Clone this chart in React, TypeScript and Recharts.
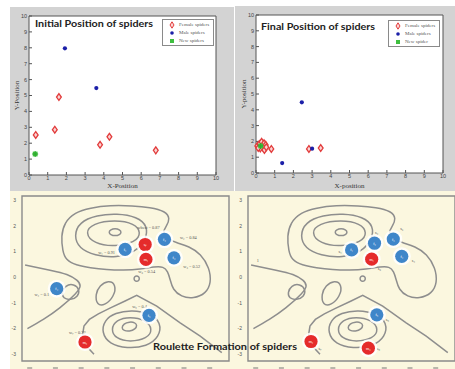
import React from 'react';
import { ScatterChart, Scatter, XAxis, YAxis, Legend, ReferenceArea } from 'recharts';

// ---- top panels: spider positions ----
const positionTicks = [0, 1, 2, 3, 4, 5, 6, 7, 8, 9, 10];

const initialFemale = [
  { x: 0.36, y: 2.52 }, { x: 1.38, y: 2.85 }, { x: 1.6, y: 4.9 },
  { x: 3.8, y: 1.9 }, { x: 4.3, y: 2.4 }, { x: 6.78, y: 1.55 },
];
const initialMale = [{ x: 1.92, y: 7.97 }, { x: 3.6, y: 5.47 }];
const initialNew = [{ x: 0.33, y: 1.32 }];

const finalFemale = [
  { x: 0.07, y: 1.71 }, { x: 0.18, y: 1.84 }, { x: 0.3, y: 1.97 }, { x: 0.43, y: 1.88 },
  { x: 0.52, y: 1.78 }, { x: 0.36, y: 1.63 }, { x: 0.23, y: 1.56 }, { x: 0.45, y: 1.46 },
  { x: 0.12, y: 1.58 }, { x: 0.55, y: 1.63 }, { x: 0.82, y: 1.52 }, { x: 2.83, y: 1.52 },
  { x: 3.46, y: 1.58 },
];
const finalMale = [{ x: 2.45, y: 4.47 }, { x: 1.4, y: 0.63 }, { x: 3.0, y: 1.54 }];
const finalNew = [{ x: 0.25, y: 1.71 }];

const initialLegend = ['Female spiders', 'Male spiders', 'New spiders'];
const finalLegend = ['Female spiders', 'Male spiders', 'New spider'];

// ---- bottom panels: roulette formation ----
const rouletteYTicks = [-3, -2, -1, 0, 1, 2, 3];
const rouletteXTicks = [-3.7, -2.7, -1.7, -0.7, 0.3, 1.3, 2.3, 3.3];

const outerContour = [
  [-2.42, 1.01], [-2.48, 1.6], [-2.35, 2.13], [-1.95, 2.52], [-1.35, 2.7], [-0.58, 2.8],
  [0.31, 2.78], [0.98, 2.72], [1.58, 2.57], [1.76, 2.28], [1.62, 1.98], [1.45, 1.75],
  [1.63, 1.49], [2.02, 1.33], [2.49, 1.2], [2.96, 0.9], [3.29, 0.36], [3.36, -0.22],
  [3.15, -0.64], [2.67, -0.84], [2.19, -0.77], [1.86, -0.48], [1.76, -0.09], [1.67, 0.23],
  [1.5, 0.41], [1.17, 0.41], [0.59, 0.3], [-0.05, 0.27], [-0.71, 0.29], [-1.35, 0.36],
  [-1.9, 0.46], [-2.3, 0.67],
];
const ringMiddle = [
  [-1.98, 1.6], [-1.78, 2.14], [-1.09, 2.41], [-0.31, 2.48], [0.48, 2.35], [0.89, 1.99],
  [0.82, 1.45], [0.41, 0.98], [-0.31, 0.75], [-1.18, 0.84], [-1.78, 1.12],
];
const ringInner = [
  [-1.56, 1.73], [-1.25, 2.09], [-0.38, 2.23], [0.38, 2.09], [0.64, 1.73], [0.42, 1.36],
  [-0.38, 1.18], [-1.2, 1.3],
];
const hilltop = [
  [-0.13, 1.75], [-0.2, 1.85], [-0.38, 1.9], [-0.56, 1.85], [-0.63, 1.75], [-0.56, 1.65],
  [-0.38, 1.6], [-0.2, 1.65],
];
const smallRing = [
  [0.57, -0.06], [0.54, 0.02], [0.46, 0.05], [0.38, 0.02], [0.35, -0.06], [0.38, -0.14],
  [0.46, -0.17], [0.54, -0.14],
];
const leftWedge = [
  [-3.88, 0.47], [-2.91, 0.27], [-2.26, 0.1], [-1.87, -0.12], [-1.74, -0.35],
  [-1.94, -0.67], [-2.52, -1.19], [-3.17, -1.65], [-3.79, -2.01],
];
const leftLoop = [
  [-2.46, -0.61], [-2.32, -0.32], [-1.98, -0.26], [-1.75, -0.48], [-1.83, -0.77],
  [-2.11, -0.9], [-2.4, -0.83],
];
const centreBlob = [
  [-0.98, -0.33], [-0.64, -0.12], [-0.34, -0.28], [-0.42, -0.76], [-0.77, -1.1],
  [-1.09, -1.1], [-1.15, -0.67],
];
const lowerWedge = [
  [-1.2, -3.01], [-1.38, -2.81], [-1.55, -2.53], [-1.64, -2.23], [-1.59, -1.91],
  [-1.38, -1.65], [-1.03, -1.43], [-0.58, -1.21], [0.01, -0.93], [0.46, -0.71],
  [1.24, -1.13], [2.15, -1.78], [2.93, -2.3], [3.77, -2.94],
];
const basinOuter = [
  [-0.9, -2.17], [-0.8, -1.68], [-0.38, -1.39], [0.27, -1.28], [1.0, -1.41], [1.41, -1.78],
  [1.34, -2.33], [0.86, -2.7], [0.08, -2.79], [-0.61, -2.6],
];
const basinMiddle = [
  [-0.55, -2.04], [-0.34, -1.67], [0.2, -1.54], [0.82, -1.67], [1.09, -2.04],
  [0.87, -2.4], [0.2, -2.53], [-0.35, -2.4],
];
const basinInner = [
  [0.48, -1.88], [0.4, -1.77], [0.18, -1.74], [-0.05, -1.82], [-0.13, -1.98],
  [-0.04, -2.09], [0.18, -2.12], [0.41, -2.03],
];

const closedContours = [outerContour, ringMiddle, ringInner, hilltop, smallRing, leftLoop, centreBlob, basinOuter, basinMiddle, basinInner];
const openContours = [leftWedge];
const straightContours = [lowerWedge];

const startBlue = [
  { x: 0.01, y: 1.08, tag: 'f₁' }, { x: 1.54, y: 1.47, tag: 'f₂' }, { x: 1.91, y: 0.75, tag: 'f₃' },
  { x: -2.65, y: -0.45, tag: 'f₄' }, { x: 0.94, y: -1.49, tag: 'f₅' },
];
const startRed = [
  { x: 0.79, y: 1.27, tag: 'sᵦ' }, { x: 0.82, y: 0.69, tag: 'm₁' }, { x: -1.55, y: -2.53, tag: 'm₂' },
];
const startNotes = [
  { x: -0.71, y: 0.97, t: 'w₁ = 0.91' }, { x: 2.47, y: 1.53, t: 'w₂ = 0.84' },
  { x: 2.6, y: 0.4, t: 'w₃ = 0.52' }, { x: -3.23, y: -0.67, t: 'w₄ = 0.1' },
  { x: 0.57, y: -1.15, t: 'w₅ = 0.4' }, { x: 0.92, y: 1.92, t: 'wbest = 0.87' },
  { x: 0.85, y: 0.23, t: 'w₆ = 0.54' }, { x: -1.85, y: -2.17, t: 'w₇ = 0.32' },
];

const endBlue = [
  { x: 0.03, y: 1.06, tag: 'f₁' }, { x: 0.92, y: 1.32, tag: 'f₂' }, { x: 1.65, y: 1.48, tag: 'f₃' },
  { x: 1.98, y: 0.81, tag: 'f₄' }, { x: 1.01, y: -1.47, tag: 'f₅' },
];
const endRed = [
  { x: 0.81, y: 0.7, tag: 'm₁' }, { x: -1.55, y: -2.51, tag: 'm₂' }, { x: 0.68, y: -2.77, tag: 'm₃' },
];
const endNotes = [
  { x: -0.42, y: 1.0, t: 's₁' }, { x: 1.0, y: 1.74, t: 's₂' }, { x: 1.98, y: 1.91, t: 's₃' },
  { x: 2.43, y: 0.65, t: 's₄' }, { x: 1.42, y: -1.64, t: 's₅' }, { x: 1.11, y: 0.35, t: 's₆' },
  { x: -1.2, y: -2.79, t: 's₇' }, { x: 1.07, y: -2.79, t: 's₈' }, { x: -3.62, y: 0.65, t: '1' },
];

const toPoints = (pairs: number[][]) => pairs.map(([x, y]) => ({ x, y }));

const GRAY_BG = '#d3d3d3';
const CREAM = '#fbf7df';
const CONTOUR = '#8e8e8e';
const BLUE = '#3f86c9';
const RED = '#e52b2b';

const Diamond = (p: any) => (
  <path
    d={`M${p.cx},${p.cy - 3.4} L${p.cx + 2.4},${p.cy} L${p.cx},${p.cy + 3.4} L${p.cx - 2.4},${p.cy} Z`}
    fill="#fbd3d3"
    stroke="#e23b3b"
    strokeWidth={1.3}
  />
);
const Dot = (p: any) => <circle cx={p.cx} cy={p.cy} r={2.1} fill="#1b1fa8" />;
const Star = (p: any) => (
  <g>
    <rect x={p.cx - 2.4} y={p.cy - 2.4} width={4.8} height={4.8} fill="#3fbf3f" />
    <path d={`M${p.cx - 3},${p.cy} H${p.cx + 3} M${p.cx},${p.cy - 3} V${p.cy + 3}`} stroke="#2ea82e" strokeWidth={1} />
  </g>
);

const legendIcons = [
  <path key="f" d="M4 0.8 L6 4 L4 7.2 L2 4 Z" fill="#fbd3d3" stroke="#e23b3b" strokeWidth={1} />,
  <circle key="m" cx={4} cy={4} r={1.8} fill="#1b1fa8" />,
  <rect key="n" x={2} y={2} width={4} height={4} fill="#3fbf3f" />,
];

const makeLegend = (names: string[]) => () => (
  <div
    style={{
      width: 52, height: 27, boxSizing: 'border-box', border: '1px solid #8a8a8a',
      background: '#fff', padding: '1px 0 0 5px',
    }}
  >
    {names.map((n, i) => (
      <div key={n} style={{ display: 'flex', alignItems: 'center', height: 8.2 }}>
        <svg width={8} height={8}>{legendIcons[i]}</svg>
        <span style={{ marginLeft: 3, fontSize: 5, lineHeight: '8px', color: '#555', fontFamily: '"Liberation Serif", serif' }}>
          {n}
        </span>
      </div>
    ))}
  </div>
);

const axisTick = { fontSize: 5.5, fill: '#444', fontFamily: '"Liberation Sans", sans-serif' };

const PositionPanel = ({ left, width, margin, female, male, fresh, xLabel, yLabel, legend, legendPos, xLabelOffset }: any) => (
  <div style={{ position: 'absolute', left, top: 0 }}>
    <ScatterChart width={width} height={191} margin={margin}>
      <ReferenceArea x1={0} x2={10} y1={0} y2={10} fill="#fff" fillOpacity={1} stroke="none" />
      <XAxis
        type="number" dataKey="x" domain={[0, 10]} ticks={positionTicks} interval={0} height={15}
        stroke="#555" tickSize={-3} tickMargin={4} tick={axisTick}
        label={{ value: xLabel, position: 'insideBottom', offset: xLabelOffset, fontSize: 7, fill: '#333', fontFamily: '"Liberation Serif", serif' }}
      />
      <XAxis
        xAxisId="top" orientation="top" type="number" dataKey="x" domain={[0, 10]} ticks={positionTicks}
        interval={0} height={1} stroke="#555" tickSize={-3} tickFormatter={() => ''}
      />
      <YAxis
        type="number" dataKey="y" domain={[0, 10]} ticks={positionTicks} interval={0} width={20}
        stroke="#555" tickSize={-3} tickMargin={5} tick={axisTick}
        label={{ value: yLabel, angle: -90, position: 'insideLeft', offset: 8, fontSize: 7, fill: '#333', fontFamily: '"Liberation Serif", serif', style: { textAnchor: 'middle' } }}
      />
      <YAxis
        yAxisId="right" orientation="right" type="number" dataKey="y" domain={[0, 10]} ticks={positionTicks}
        interval={0} width={1} stroke="#555" tickSize={-3} tickFormatter={() => ''}
      />
      <Legend layout="vertical" align="center" verticalAlign="middle" content={makeLegend(legend)} wrapperStyle={{ left: legendPos[0], top: legendPos[1], width: 52 }} />
      <Scatter name={legend[0]} data={female} shape={Diamond} isAnimationActive={false} />
      <Scatter name={legend[1]} data={male} shape={Dot} isAnimationActive={false} />
      <Scatter name={legend[2]} data={fresh} shape={Star} isAnimationActive={false} />
    </ScatterChart>
  </div>
);

const DashTick = (p: any) => (
  <line x1={p.x - 2.5} x2={p.x + 2.5} y1={p.y} y2={p.y} stroke="#777" strokeWidth={1} />
);

const spiderBall = (color: string) => (p: any) => (
  <g>
    <circle cx={p.cx} cy={p.cy} r={9} fill="#fff" fillOpacity={0.85} />
    <circle cx={p.cx} cy={p.cy} r={6.6} fill={color} />
    <text x={p.cx} y={p.cy + 1.5} textAnchor="middle" fontSize={4} fill="#fff" fontFamily='"Liberation Serif", serif'>
      {p.payload.tag}
    </text>
  </g>
);

const Note = (p: any) => (
  <text x={p.cx} y={p.cy + 1.5} textAnchor="middle" fontSize={4.3} fill="#555" fontFamily='"Liberation Serif", serif'>
    {p.payload.t}
  </text>
);

const contourLine = { stroke: CONTOUR, strokeWidth: 1.5, fill: 'none' };
const NoDot = () => <g />;

const RoulettePanel = ({ left, width, margin, blue, red, notes }: any) => (
  <div style={{ position: 'absolute', left, top: 190 }}>
    <ScatterChart width={width} height={185} margin={margin}>
      <XAxis
        type="number" dataKey="x" domain={[-4, 4.05]} allowDataOverflow ticks={rouletteXTicks} interval={0}
        height={10} axisLine={false} tickLine={false} tickSize={0} tickMargin={7} tick={<DashTick />}
      />
      <YAxis
        type="number" dataKey="y" domain={[-3.27, 3.16]} allowDataOverflow ticks={rouletteYTicks} interval={0}
        width={14} axisLine={false} tickLine={false} tickMargin={0}
        tick={{ fontSize: 5, fill: '#555', fontFamily: '"Liberation Sans", sans-serif' }}
      />
      <ReferenceArea x1={-4} x2={4.05} y1={-3.27} y2={3.16} fill="none" stroke="#8a8a8a" strokeWidth={1.4} ifOverflow="visible" />
      {closedContours.map((c, i) => (
        <Scatter key={`c${i}`} data={toPoints(c)} line={contourLine} lineJointType="basisClosed" shape={NoDot} isAnimationActive={false} />
      ))}
      {openContours.map((c, i) => (
        <Scatter key={`o${i}`} data={toPoints(c)} line={contourLine} lineJointType="natural" shape={NoDot} isAnimationActive={false} />
      ))}
      {straightContours.map((c, i) => (
        <Scatter key={`s${i}`} data={toPoints(c)} line={contourLine} lineJointType="linear" shape={NoDot} isAnimationActive={false} />
      ))}
      <Scatter data={notes} shape={Note} isAnimationActive={false} />
      <Scatter data={blue} shape={spiderBall(BLUE)} isAnimationActive={false} />
      <Scatter data={red} shape={spiderBall(RED)} isAnimationActive={false} />
    </ScatterChart>
  </div>
);

const titleFont = { fontFamily: 'Lato, "Open Sans", sans-serif', fontWeight: 700, fontSize: 10, fill: '#222' };

export default function App() {
  return (
    <div style={{ position: 'absolute', left: 0, top: 0, width: 455, height: 369, overflow: 'hidden', background: '#fff' }}>
      <div style={{ position: 'absolute', left: 10, top: 7, width: 224, height: 184, background: GRAY_BG }} />
      <div style={{ position: 'absolute', left: 235, top: 6, width: 220, height: 185, background: GRAY_BG }} />
      <div style={{ position: 'absolute', left: 10, top: 191, width: 445, height: 178, background: CREAM }} />

      <PositionPanel
        left={0} width={225} margin={{ top: 15, right: 8, bottom: 1, left: 9 }}
        female={initialFemale} male={initialMale} fresh={initialNew}
        xLabel="X-Position" yLabel="Y-Position" legend={initialLegend} legendPos={[162, 19]} xLabelOffset={2}
      />
      <PositionPanel
        left={225} width={230} margin={{ top: 14, right: 11, bottom: 3, left: 11 }}
        female={finalFemale} male={finalMale} fresh={finalNew}
        xLabel="X-position" yLabel="Y-position" legend={finalLegend} legendPos={[163, 20]} xLabelOffset={0}
      />

      <RoulettePanel left={0} width={230} margin={{ top: 6, right: 1, bottom: 4, left: 8 }} blue={startBlue} red={startRed} notes={startNotes} />
      <RoulettePanel left={226} width={232} margin={{ top: 6, right: 3, bottom: 4, left: 8 }} blue={endBlue} red={endRed} notes={endNotes} />

      <svg width={455} height={369} style={{ position: 'absolute', left: 0, top: 0, pointerEvents: 'none' }}>
        <text x={35} y={26.5} textLength={118} lengthAdjust="spacingAndGlyphs" {...titleFont}>Initial Position  of spiders</text>
        <text x={261} y={29.5} textLength={114} lengthAdjust="spacingAndGlyphs" {...titleFont}>Final Position of spiders</text>
        <text x={153} y={349.5} textLength={144} lengthAdjust="spacingAndGlyphs" {...titleFont}>Roulette Formation  of spiders</text>
      </svg>
    </div>
  );
}
